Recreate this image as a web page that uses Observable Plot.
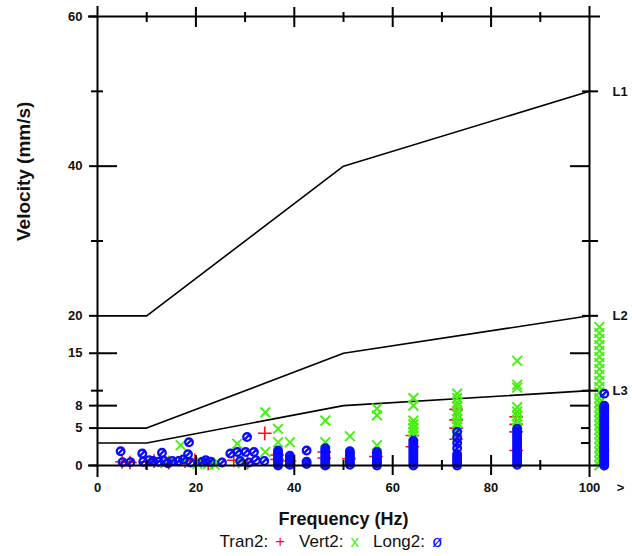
<!DOCTYPE html>
<html>
<head>
<meta charset="utf-8">
<script src="https://cdn.jsdelivr.net/npm/d3@7"></script>
<script src="https://cdn.jsdelivr.net/npm/@observablehq/plot@0.6"></script>
<style>
  html, body { margin: 0; padding: 0; background: #fff; }
  #chart { width: 632px; }
  #legend { width: 632px; height: 26px; line-height: 24px; text-align: center; font-family: "Liberation Sans", Arial, sans-serif; font-size: 17px; color: #111; padding-left: 44px; box-sizing: border-box; }
  #legend .s { margin-left: 7px; margin-right: 14px; }
</style>
</head>
<body>
<div id="chart"></div>
<div id="legend"></div>
<script>
// ---- limit lines (DIN 4150-3 style) ----
const lineNames = ["L1", "L2", "L3"];
const lineFreq = [0, 10, 50, 100];
const lineVel = [
  [20, 20, 40, 50],
  [5, 5, 15, 20],
  [3, 3, 8, 10]
];

// ---- Tran2 (red +) ----
const tranFreq = [5.0, 6.6, 9.8, 11.5, 14.5, 17.8, 19.8, 22.5, 27.7, 30.5, 34.0, 36.5, 36.5, 39.0, 46.1, 46.1, 51.1, 56.6, 64.0, 64.0, 72.9, 72.9, 72.9, 72.9, 85.1, 85.1, 85.1, 85.1, 102.6, 102.6, 102.6];
const tranVel  = [0.5, 0.4, 0.5, 0.6, 0.4, 0.6, 0.7, 0.3, 0.7, 0.4, 4.3, 0.8, 1.4, 0.6, 1.0, 1.8, 0.9, 1.2, 2.5, 4.0, 3.5, 5.0, 6.1, 7.5, 2.0, 4.5, 5.5, 6.5, 8.0, 5.0, 2.0];

// ---- Vert2 (green x), scattered points ----
const vertFreq = [13.8, 15.5, 16.9, 17.5, 20.3, 21.0, 22.5, 23.8, 24.5, 28.4, 28.9, 29.5, 34.1, 34.1, 36.7, 36.7, 36.7, 39.1, 39.1, 46.3, 46.3, 46.3, 51.3, 51.3, 56.8, 56.8, 56.8];
const vertVel  = [0.3, 0.6, 2.7, 0.5, 0.2, 0.5, 0.2, 0.1, 0.4, 2.9, 1.0, 0.3, 7.1, 1.8, 4.9, 3.1, 1.0, 3.1, 0.4, 6.0, 3.1, 0.3, 3.9, 0.5, 7.6, 6.7, 2.7];
// Vert2 stacked columns
const vertColFreq = [64.2, 73.1, 85.3, 102.0];
const vertColVel = [
  [9.0, 8.0, 6.0, 5.5, 5.0, 4.5, 4.0],
  [9.6, 9.0, 8.4, 7.9, 7.3, 6.8, 6.2, 5.7, 5.2, 4.6, 4.0],
  [14.0, 10.8, 10.4, 7.8, 7.2, 6.6, 6.0, 5.5, 5.0],
  [18.5, 17.7, 16.9, 16.1, 15.3, 14.5, 13.7, 12.9, 12.1, 11.3, 10.5, 9.8, 9.0, 8.4, 7.8, 7.2, 6.6, 6.0, 5.4, 4.8, 4.2, 3.6, 3.0, 2.4, 1.8, 1.2, 0.6, 0.0]
];

// ---- Long2 (blue ø), scattered points ----
const longFreq = [4.7, 5.1, 6.7, 9.1, 9.3, 10.5, 11.3, 12.4, 13.1, 13.6, 14.3, 15.2, 16.5, 17.4, 18.4, 18.6, 18.9, 21.3, 22.0, 23.0, 25.3, 27.0, 28.4, 29.0, 30.1, 30.4, 30.8, 31.8, 32.2, 33.9];
const longVel  = [1.9, 0.45, 0.45, 1.6, 0.5, 0.7, 0.6, 0.5, 1.7, 0.6, 0.3, 0.6, 0.6, 0.8, 1.5, 3.1, 0.4, 0.5, 0.7, 0.5, 0.4, 1.6, 1.8, 0.6, 1.8, 3.8, 0.4, 1.8, 0.7, 0.6];
// Long2 stacked columns
const longColFreq = [36.7, 39.1, 42.5, 46.3, 51.3, 56.8, 64.2, 73.1, 85.3, 103.0];
const longColVel = [
  [2.0, 1.7, 1.4, 1.1, 0.8, 0.5, 0.2, 0.0],
  [1.3, 1.0, 0.7, 0.4, 0.1],
  [2.0, 0.5, 0.2],
  [2.3, 2.0, 1.7, 1.4, 1.1, 0.8, 0.5, 0.2, 0.0],
  [1.9, 1.6, 1.3, 1.0, 0.7, 0.4, 0.1],
  [1.8, 1.5, 1.2, 0.9, 0.6, 0.3, 0.0],
  [3.3, 3.0, 2.7, 2.4, 2.1, 1.8, 1.5, 1.2, 0.9, 0.6, 0.3, 0.0],
  [4.5, 3.7, 3.0, 2.3, 1.5, 1.2, 0.9, 0.6, 0.3, 0.0],
  [4.9, 4.6, 4.3, 4.0, 3.7, 3.4, 3.1, 2.8, 2.5, 2.2, 1.9, 1.6, 1.3, 1.0, 0.7, 0.4, 0.1],
  [9.6, 8.0, 7.7, 7.4, 7.1, 6.8, 6.5, 6.2, 5.9, 5.6, 5.3, 5.0, 4.7, 4.4, 4.1, 3.8, 3.5, 3.2, 2.9, 2.6, 2.3, 2.0, 1.7, 1.4, 1.1, 0.8, 0.5, 0.2, 0.0]
];

// ---- axis ticks ----
const xLabelTicks = [0, 20, 40, 60, 80, 100, 106.3];
const xMajorTicks = [20, 40, 60, 80];
const xMinorTicks = [10, 30, 50, 70, 90];
const yLabelTicks = [0, 5, 8, 15, 20, 40, 60];
const yMinorTicks = [10, 30, 50];
const yInnerTicks = [40, 15, 8];
const rightCrossTicks = [50, 30, 20, 10];
const rightShortTicks = [5, 3];
const frameX = [0, 100];
const frameY = [0, 60];

// ---- colours ----
const cTran = "#ff1010", cVert = "#44f010", cLong = "#0a0aff";

// ---- build tables ----
const lines = lineNames.flatMap((name, i) => lineFreq.map((f, j) => ({name, f, v: lineVel[i][j]})));
const lineEnds = lineNames.map((name, i) => ({name, f: lineFreq[lineFreq.length - 1], v: lineVel[i][lineFreq.length - 1]}));
const tran = tranFreq.map((f, i) => ({f, v: tranVel[i]}));
const vert = vertFreq.map((f, i) => ({f, v: vertVel[i]}))
  .concat(vertColFreq.flatMap((f, i) => vertColVel[i].map(v => ({f, v}))));
const long = longFreq.map((f, i) => ({f, v: longVel[i]}))
  .concat(longColFreq.flatMap((f, i) => longColVel[i].map(v => ({f, v}))));

const slashCircle = {
  draw(context, size) {
    const r = Math.sqrt(size / Math.PI);
    context.moveTo(r, 0);
    context.arc(0, 0, r, 0, 2 * Math.PI);
    context.moveTo(-r * 0.9, r * 0.9);
    context.lineTo(r * 0.9, -r * 0.9);
  }
};

const blank = () => "";
const tickStyle = {stroke: "black", strokeWidth: 2, label: null, tickFormat: blank};

const plot = Plot.plot({
  width: 632,
  height: 530,
  marginLeft: 97,
  marginRight: 43,
  marginTop: 16,
  marginBottom: 65,
  x: {domain: [0, 100]},
  y: {domain: [0, 60]},
  style: {fontFamily: "'Liberation Sans', Arial, sans-serif", background: "white", color: "#111"},
  marks: [
    // limit lines
    Plot.line(lines, {x: "f", y: "v", z: "name", stroke: "black", strokeWidth: 1.6}),
    Plot.text(lineEnds, {x: "f", y: "v", text: "name", dx: 23, textAnchor: "start", fontWeight: "bold", fontSize: 13, fill: "#111"}),
    // data
    Plot.dot(tran, {x: "f", y: "v", symbol: "plus", r: 4.5, stroke: cTran, strokeWidth: 1.6}),
    Plot.dot(vert, {x: "f", y: "v", symbol: "times", r: 4.5, stroke: cVert, strokeWidth: 1.9}),
    Plot.dot(long, {x: "f", y: "v", symbol: slashCircle, r: 3.8, stroke: cLong, strokeWidth: 2.3}),
    // frame lines extending past corners
    Plot.ruleX(frameX, {stroke: "black", strokeWidth: 2, insetTop: -10, insetBottom: -12}),
    Plot.ruleY(frameY, {stroke: "black", strokeWidth: 2, insetLeft: -9, insetRight: -11}),
    // bottom axis
    Plot.axisX({anchor: "bottom", ticks: xMajorTicks, tickSize: 20, dy: -10, ...tickStyle}),
    Plot.axisX({anchor: "bottom", ticks: xMinorTicks, tickSize: 10, dy: -5, ...tickStyle}),
    Plot.axisX({anchor: "bottom", ticks: xLabelTicks, tickSize: 0, tickPadding: 17, label: null,
      tickFormat: d => d > 100 ? ">" : String(d), fontWeight: "bold", fontSize: 13}),
    // top axis
    Plot.axisX({anchor: "top", ticks: xMajorTicks, tickSize: 20, dy: 10, ...tickStyle}),
    Plot.axisX({anchor: "top", ticks: xMinorTicks, tickSize: 10, dy: 5, ...tickStyle}),
    // left axis
    Plot.axisY({anchor: "left", ticks: yLabelTicks, tickSize: 8, tickPadding: 7, label: null,
      stroke: "black", strokeWidth: 2, fontWeight: "bold", fontSize: 13}),
    Plot.axisY({anchor: "left", ticks: yInnerTicks, tickSize: -20, ...tickStyle}),
    Plot.axisY({anchor: "left", ticks: yMinorTicks, tickSize: 12, dx: 6, ...tickStyle}),
    // right axis
    Plot.axisY({anchor: "right", ticks: yInnerTicks, tickSize: -20, ...tickStyle}),
    Plot.axisY({anchor: "right", ticks: rightCrossTicks, tickSize: 16, dx: -8, ...tickStyle}),
    Plot.axisY({anchor: "right", ticks: rightShortTicks, tickSize: -9, ...tickStyle}),
    // axis titles
    Plot.text(["Velocity (mm/s)"], {frameAnchor: "left", dx: -74, rotate: -90, fontWeight: "bold", fontSize: 19, fill: "#111"}),
    Plot.text(["Frequency (Hz)"], {frameAnchor: "bottom", dy: 59, fontWeight: "bold", fontSize: 18, fill: "#111"})
  ]
});
document.getElementById("chart").appendChild(plot);

// legend
const legendItems = [["Tran2:", "+", cTran], ["Vert2:", "x", cVert], ["Long2:", "ø", cLong]];
document.getElementById("legend").innerHTML = legendItems
  .map(([t, s, c]) => `${t}<span class="s" style="color:${c}">${s}</span>`).join("");
</script>
</body>
</html>
